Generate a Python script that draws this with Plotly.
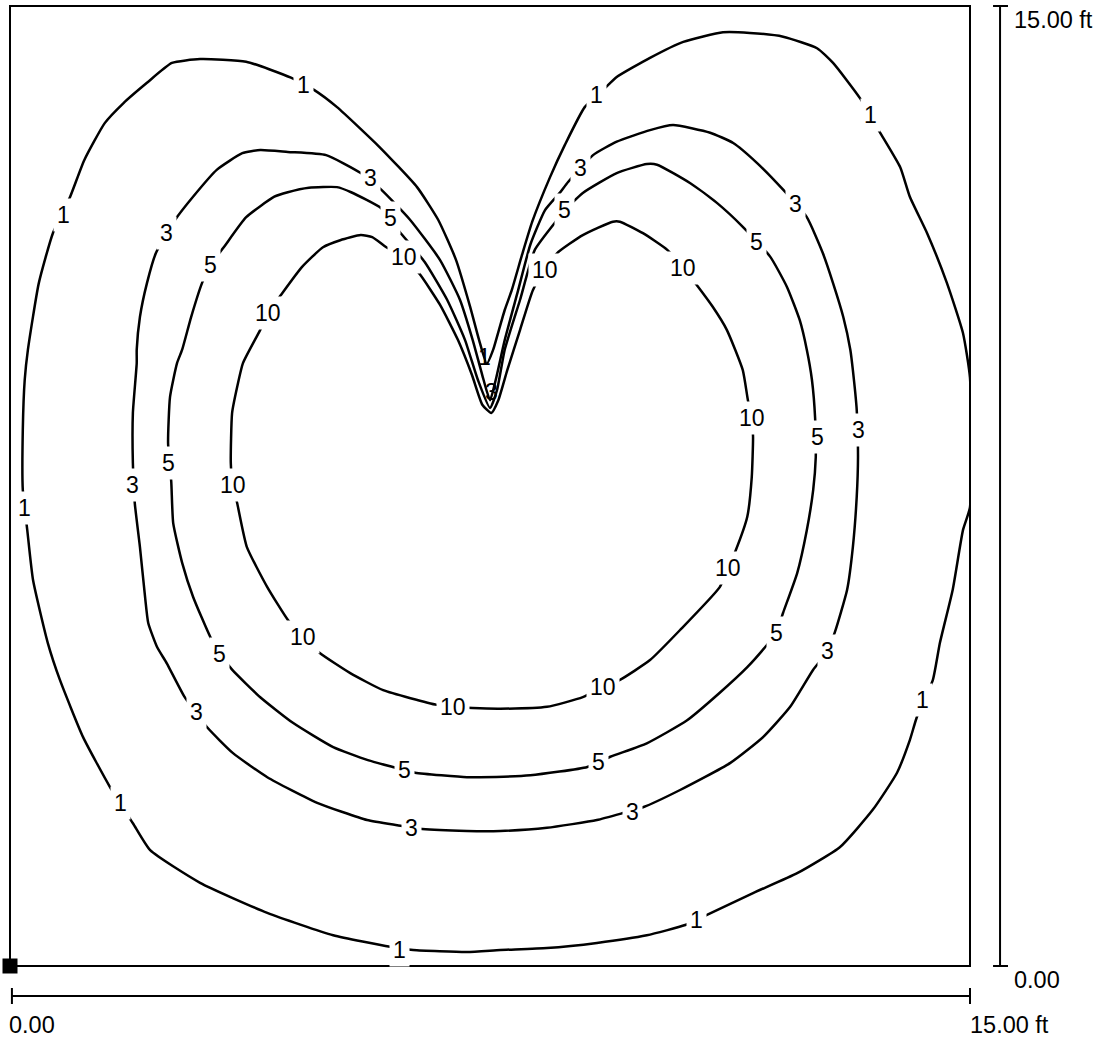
import plotly.graph_objects as go

# Room size (ft)
ROOM_W = 15.0
ROOM_H = 15.0

# Isolux contour levels
levels = [1, 3, 5, 10]

# Contour polylines (x ft, y ft)
contour_1 = [(7.45,9.41),(7.55,9.63),(7.64,9.94),(7.73,10.25),(7.84,10.56),(8.00,11.11),(8.16,11.63),
    (8.44,12.33),(8.67,12.83),(8.98,13.42),(9.30,13.72),(9.48,13.89),(10.00,14.19),(10.52,14.44),
    (11.14,14.59),(11.56,14.58),(12.08,14.52),(12.61,14.34),(12.86,14.11),(13.28,13.56),(13.59,13.03),
    (13.91,12.48),(14.06,12.02),(14.33,11.45),(14.64,10.67),(14.89,9.89),(15.00,9.19),(15.00,7.17),
    (14.89,6.81),(14.73,5.88),(14.53,5.05),(14.42,4.47),(14.17,3.89),(14.06,3.53),(13.86,3.02),
    (13.48,2.44),(12.97,1.86),(12.30,1.45),(11.61,1.14),(10.89,0.80),(10.55,0.64),(9.95,0.48),
    (9.17,0.36),(8.39,0.28),(7.66,0.25),(7.14,0.22),(6.30,0.25),(5.94,0.30),(5.05,0.48),(4.02,0.83),
    (2.97,1.30),(2.19,1.81),(1.92,2.23),(1.56,2.80),(1.14,3.58),(0.78,4.47),(0.59,5.05),(0.36,6.03),
    (0.27,6.81),(0.20,7.44),(0.20,8.38),(0.23,9.16),(0.28,9.63),(0.45,10.67),(0.67,11.45),(0.94,12.02),
    (1.16,12.59),(1.48,13.17),(1.77,13.48),(2.14,13.80),(2.53,14.11),(2.97,14.17),(3.69,14.13),
    (4.39,13.88),(4.75,13.69),(5.11,13.42),(5.77,12.80),(6.36,12.17),(6.69,11.66),(6.97,11.03),
    (7.19,10.30),(7.33,9.78),(7.45,9.41)]

contour_3 = [(7.50,8.84),(7.59,9.16),(7.73,9.78),(7.94,10.56),(8.13,11.27),(8.36,11.81),(8.59,12.08),
    (8.72,12.25),(9.11,12.67),(9.48,12.88),(10.00,13.06),(10.36,13.14),(10.94,13.02),(11.30,12.86),
    (11.67,12.55),(12.08,12.13),(12.45,11.70),(12.70,11.14),(12.86,10.67),(13.02,10.14),(13.13,9.63),
    (13.17,9.31),(13.23,8.69),(13.25,7.95),(13.23,7.33),(13.17,6.55),(13.08,5.88),(12.89,5.22),
    (12.77,4.91),(12.55,4.63),(12.19,4.05),(11.77,3.58),(11.25,3.17),(10.47,2.75),(9.89,2.48),
    (9.58,2.39),(9.17,2.28),(8.39,2.16),(7.66,2.11),(7.14,2.11),(6.44,2.14),(6.05,2.20),(5.58,2.28),
    (4.80,2.55),(4.02,2.95),(3.48,3.33),(3.08,3.73),(2.73,4.20),(2.45,4.73),(2.30,4.98),(2.16,5.36),
    (2.11,5.77),(2.03,6.55),(1.95,7.23),(1.92,7.86),(1.92,8.64),(1.98,9.42),(1.98,9.63),(2.03,10.14),
    (2.14,10.67),(2.28,11.14),(2.58,11.66),(2.86,12.02),(3.23,12.44),(3.63,12.70),(3.91,12.75),
    (4.34,12.72),(4.94,12.67),(5.48,12.39),(5.80,12.13),(6.25,11.66),(6.72,11.03),(7.03,10.41),
    (7.23,9.78),(7.38,9.23),(7.50,8.84)]

contour_5 = [(7.50,8.72),(7.61,9.00),(7.73,9.63),(7.97,10.41),(8.20,11.19),(8.55,11.66),(8.67,11.81),
    (8.95,12.08),(9.48,12.39),(9.95,12.53),(10.11,12.52),(10.63,12.23),(11.05,11.92),(11.45,11.55),
    (11.88,11.08),(12.14,10.61),(12.34,10.09),(12.45,9.63),(12.53,9.16),(12.58,8.56),(12.59,7.95),
    (12.55,7.44),(12.45,6.81),(12.30,6.14),(12.08,5.52),(11.97,5.20),(11.83,5.02),(11.52,4.67),
    (11.09,4.27),(10.58,3.84),(9.95,3.48),(9.38,3.27),(9.02,3.11),(8.13,2.98),(7.34,2.95),(7.14,2.95),
    (6.33,3.02),(5.98,3.11),(5.58,3.22),(5.05,3.42),(4.42,3.80),(3.91,4.20),(3.47,4.63),(3.28,4.88),
    (3.13,5.14),(2.86,5.77),(2.69,6.30),(2.55,6.92),(2.52,7.56),(2.47,8.17),(2.50,8.89),(2.61,9.42),
    (2.69,9.63),(2.83,10.14),(3.00,10.67),(3.13,10.95),(3.34,11.23),(3.69,11.70),(4.13,12.02),
    (4.34,12.09),(4.67,12.16),(5.11,12.17),(5.33,12.09),(5.80,11.84),(6.09,11.47),(6.48,11.00),
    (6.83,10.41),(7.11,9.78),(7.31,9.16),(7.50,8.72)]

contour_10 = [(7.52,8.64),(7.63,8.84),(7.77,9.31),(7.97,9.94),(8.17,10.56),(8.36,10.88),(8.55,11.14),
    (8.95,11.42),(9.42,11.63),(9.53,11.63),(9.89,11.45),(10.27,11.19),(10.52,10.91),(10.73,10.64),
    (10.98,10.30),(11.20,9.94),(11.45,9.31),(11.53,8.84),(11.59,8.56),(11.61,8.27),(11.59,7.64),
    (11.52,7.02),(11.33,6.47),(11.22,6.22),(11.09,5.92),(10.47,5.25),(10.00,4.78),(9.53,4.47),
    (9.27,4.36),(8.95,4.20),(8.39,4.05),(7.66,4.02),(7.23,4.03),(6.92,4.05),(6.67,4.08),(5.83,4.31),
    (5.31,4.58),(4.84,4.89),(4.58,5.14),(4.34,5.41),(4.02,5.92),(3.70,6.55),(3.55,7.23),(3.48,7.52),
    (3.45,7.86),(3.47,8.64),(3.55,9.05),(3.64,9.42),(3.91,9.94),(4.03,10.20),(4.23,10.48),(4.56,10.92),
    (4.89,11.23),(5.16,11.34),(5.48,11.42),(5.66,11.39),(5.88,11.23),(6.16,11.08),(6.41,10.80),
    (6.72,10.33),(7.00,9.78),(7.22,9.23),(7.38,8.77),(7.52,8.64)]

# Contour label positions (x ft, y ft)
labels_1 = [(9.17,13.61),(13.44,13.30),(14.25,4.16),(10.73,0.72),(6.09,0.25),(1.72,2.55),
            (0.22,7.16),(0.83,11.73),(4.58,13.77)]
labels_3 = [(8.91,12.47),(12.28,11.91),(13.25,8.38),(12.77,4.92),(9.73,2.41),(6.28,2.16),
            (2.92,3.97),(1.92,7.52),(2.45,11.45),(5.63,12.31)]
labels_5 = [(8.67,11.81),(11.66,11.31),(12.61,8.27),(11.97,5.20),(9.19,3.19),(6.17,3.06),
            (3.28,4.88),(2.47,7.86),(3.13,10.95),(5.94,11.69)]
labels_10 = [(8.36,10.88),(10.52,10.91),(11.59,8.56),(11.22,6.22),(9.27,4.36),(6.92,4.05),
             (4.58,5.14),(3.48,7.52),(4.03,10.20),(6.16,11.08)]
# labels at the notch tip, drawn without background
notch_labels = [(1, 7.41, 9.52), (3, 7.53, 8.97)]

# Scale bar texts
scale_x_labels = ["0.00", "15.00 ft"]
scale_y_labels = ["0.00", "15.00 ft"]

FONT = "Liberation Sans, Arial, sans-serif"
LABEL_SIZE = 23
SCALE_SIZE = 23.5

contours = [contour_1, contour_3, contour_5, contour_10]
label_sets = [labels_1, labels_3, labels_5, labels_10]

fig = go.Figure()
for lvl, pts in zip(levels, contours):
    fig.add_trace(go.Scatter(
        x=[p[0] for p in pts], y=[p[1] for p in pts], mode="lines",
        line=dict(color="black", width=2.5, shape="spline", smoothing=0.5),
        hoverinfo="skip", showlegend=False, name=str(lvl)))

# origin marker
fig.add_trace(go.Scatter(x=[0], y=[0], mode="markers",
                         marker=dict(symbol="square", size=15, color="black"),
                         cliponaxis=False, showlegend=False, hoverinfo="skip"))

annotations = []
for lvl, labs in zip(levels, label_sets):
    for (lx, ly) in labs:
        annotations.append(dict(x=lx, y=ly, xref="x", yref="y", text=str(lvl), showarrow=False,
                                font=dict(family=FONT, size=LABEL_SIZE, color="black"),
                                bgcolor="white", borderpad=3))
for lvl, lx, ly in notch_labels:
    annotations.append(dict(x=lx, y=ly, xref="x", yref="y", text=str(lvl), showarrow=False,
                            font=dict(family=FONT, size=LABEL_SIZE, color="black")))

# scale bar labels (paper coordinates)
sfont = dict(family=FONT, size=SCALE_SIZE, color="black")
annotations += [
    dict(x=-0.003, y=-0.0615, xref="paper", yref="paper", text=scale_x_labels[0], showarrow=False,
         xanchor="left", yanchor="middle", font=sfont),
    dict(x=0.998, y=-0.0615, xref="paper", yref="paper", text=scale_x_labels[1], showarrow=False,
         xanchor="left", yanchor="middle", font=sfont),
    dict(x=1.044, y=-0.0146, xref="paper", yref="paper", text=scale_y_labels[0], showarrow=False,
         xanchor="left", yanchor="middle", font=sfont),
    dict(x=1.044, y=0.985, xref="paper", yref="paper", text=scale_y_labels[1], showarrow=False,
         xanchor="left", yanchor="middle", font=sfont),
]

shapes = [
    dict(type="rect", xref="paper", yref="paper", x0=0, y0=0, x1=1, y1=1,
         line=dict(color="black", width=2)),
    # horizontal scale bar
    dict(type="line", xref="paper", yref="paper", x0=0.002, x1=1, y0=-0.0313, y1=-0.0313,
         line=dict(color="black", width=2)),
    dict(type="line", xref="paper", yref="paper", x0=0.002, x1=0.002, y0=-0.0229, y1=-0.0396,
         line=dict(color="black", width=2)),
    dict(type="line", xref="paper", yref="paper", x0=1, x1=1, y0=-0.0229, y1=-0.0396,
         line=dict(color="black", width=2)),
    # vertical scale bar
    dict(type="line", xref="paper", yref="paper", x0=1.0313, x1=1.0313, y0=0, y1=1,
         line=dict(color="black", width=2)),
    dict(type="line", xref="paper", yref="paper", x0=1.0240, x1=1.0396, y0=1, y1=1,
         line=dict(color="black", width=2)),
    dict(type="line", xref="paper", yref="paper", x0=1.0240, x1=1.0396, y0=0, y1=0,
         line=dict(color="black", width=2)),
]

fig.update_layout(
    width=1100, height=1038,
    margin=dict(l=10, r=130, t=6, b=72),
    paper_bgcolor="white", plot_bgcolor="white",
    xaxis=dict(range=[0, ROOM_W], showgrid=False, zeroline=False, showticklabels=False,
               ticks="", fixedrange=True),
    yaxis=dict(range=[0, ROOM_H], showgrid=False, zeroline=False, showticklabels=False,
               ticks="", fixedrange=True),
    annotations=annotations, shapes=shapes,
)

fig.write_html("out.html", config={"displayModeBar": False},
               post_script="document.body.style.margin='0';document.body.style.overflow='hidden';")
